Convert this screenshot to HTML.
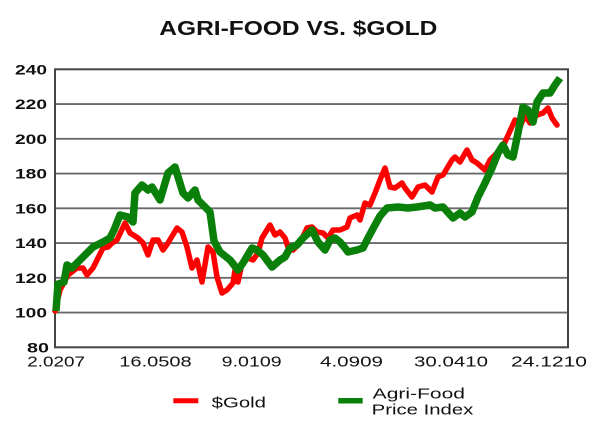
<!DOCTYPE html>
<html>
<head>
<meta charset="utf-8">
<style>
  html,body{margin:0;padding:0;background:#fff;}
  svg{display:block;}
  text{font-family:"Liberation Sans",Arial,sans-serif;fill:#111;}
</style>
</head>
<body>
<svg width="600" height="433" viewBox="0 0 600 433" xmlns="http://www.w3.org/2000/svg">
  <rect x="0" y="0" width="600" height="433" fill="#fff"/>
  <!-- Title -->
  <text x="159.3" y="35" font-size="20" font-weight="bold" textLength="278" lengthAdjust="spacingAndGlyphs">AGRI-FOOD VS. $GOLD</text>

  <!-- gridlines -->
  <g stroke="#6a6a6a" stroke-width="1.8">
    <line x1="55" y1="104.05" x2="568" y2="104.05"/>
    <line x1="55" y1="138.8" x2="568" y2="138.8"/>
    <line x1="55" y1="173.55" x2="568" y2="173.55"/>
    <line x1="55" y1="208.3" x2="568" y2="208.3"/>
    <line x1="55" y1="243.05" x2="568" y2="243.05"/>
    <line x1="55" y1="277.8" x2="568" y2="277.8"/>
    <line x1="55" y1="312.55" x2="568" y2="312.55"/>
  </g>
  <rect x="55" y="69.3" width="513" height="278" fill="none" stroke="#444" stroke-width="2"/>

  <!-- Y labels -->
  <g font-size="14" font-weight="bold">
    <text x="15" y="74.5" textLength="32" lengthAdjust="spacingAndGlyphs">240</text>
    <text x="15" y="109.2" textLength="32" lengthAdjust="spacingAndGlyphs">220</text>
    <text x="15" y="144" textLength="32" lengthAdjust="spacingAndGlyphs">200</text>
    <text x="15" y="178.7" textLength="32" lengthAdjust="spacingAndGlyphs">180</text>
    <text x="15" y="213.5" textLength="32" lengthAdjust="spacingAndGlyphs">160</text>
    <text x="15" y="248.2" textLength="32" lengthAdjust="spacingAndGlyphs">140</text>
    <text x="15" y="283" textLength="32" lengthAdjust="spacingAndGlyphs">120</text>
    <text x="15" y="317.7" textLength="32" lengthAdjust="spacingAndGlyphs">100</text>
    <text x="27" y="352.5" textLength="22" lengthAdjust="spacingAndGlyphs">80</text>
  </g>

  <!-- X labels -->
  <g font-size="15">
    <text x="27.3" y="366.5" textLength="57.7" lengthAdjust="spacingAndGlyphs">2.0207</text>
    <text x="119.3" y="366.5" textLength="72.4" lengthAdjust="spacingAndGlyphs">16.0508</text>
    <text x="221.7" y="366.5" textLength="60" lengthAdjust="spacingAndGlyphs">9.0109</text>
    <text x="320" y="366.5" textLength="63" lengthAdjust="spacingAndGlyphs">4.0909</text>
    <text x="414" y="366.5" textLength="74" lengthAdjust="spacingAndGlyphs">30.0410</text>
    <text x="511" y="366.5" textLength="76" lengthAdjust="spacingAndGlyphs">24.1210</text>
  </g>

  <!-- Gold series -->
  <polyline fill="none" stroke="#ff0000" stroke-width="5.5" stroke-linejoin="round" stroke-linecap="round"
    points="55,311 60,290 68,275 77,268 83,268 87,275 93,268 103,248 108,247 112,243 117,240 125,223 130,233 138,238 143,243 148,255 153,240 158,240 163,250 168,243 177,228 182,232 187,247 192,268 197,260 202,282 208,247 213,252 217,277 222,293 227,290 233,283 235,270 238,282 242,263 248,258 253,260 258,253 262,238 270,225 275,235 280,232 285,238 288,247 293,250 300,243 307,228 312,227 317,232 323,233 328,238 333,230 340,230 347,227 350,218 357,215 360,220 365,203 370,205 375,193 380,180 385,168 390,187 395,188 402,183 405,188 412,197 418,187 425,185 432,192 438,177 443,175 452,160 455,157 460,162 467,150 472,160 477,163 485,170 490,160 497,153 505,142 515,120 520,127 525,115 530,123 537,115 543,113 548,108 552,118 557,125"/>

  <!-- Agri-Food series -->
  <polyline fill="none" stroke="#0a7f0a" stroke-width="7.5" stroke-linejoin="round" stroke-linecap="butt"
    points="56,311 58,284 64,282 67,265 72,268 80,260 93,247 103,242 110,238 114,230 120,215 128,217 133,222 135,193 142,185 148,190 152,187 160,200 168,173 175,167 183,193 188,198 195,190 198,200 205,207 210,212 214,241 220,252 230,260 238,270 243,263 252,248 257,250 263,255 272,267 280,260 285,257 290,248 297,245 303,238 312,230 318,242 325,250 330,240 335,238 340,242 345,248 348,252 357,250 363,248 368,238 375,225 380,216 387,208 398,207 408,208 417,207 430,205 435,208 443,207 453,218 460,213 465,217 472,212 478,197 485,183 492,168 498,153 503,145 508,155 513,157 518,133 523,107 528,110 533,122 537,102 543,93 550,93 555,85 560,78"/>

  <!-- Legend -->
  <line x1="173.3" y1="400.8" x2="198.3" y2="400.8" stroke="#ff0000" stroke-width="5"/>
  <text x="211.7" y="407.5" font-size="15" textLength="54.3" lengthAdjust="spacingAndGlyphs">$Gold</text>
  <line x1="338.3" y1="400.8" x2="362.7" y2="400.8" stroke="#0a7f0a" stroke-width="5.5"/>
  <text x="372.7" y="398.3" font-size="15" textLength="92.3" lengthAdjust="spacingAndGlyphs">Agri-Food</text>
  <text x="371.7" y="414.3" font-size="15" textLength="101.6" lengthAdjust="spacingAndGlyphs">Price Index</text>
</svg>
</body>
</html>
